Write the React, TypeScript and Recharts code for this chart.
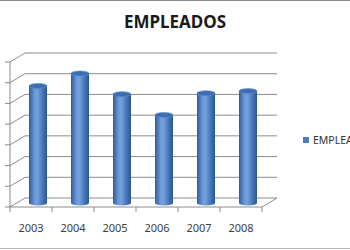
import { BarChart, Bar, XAxis, YAxis, CartesianGrid } from 'recharts';

const years = ['2003', '2004', '2005', '2006', '2007', '2008'];
const empleados = [57, 63, 53, 43, 53.5, 54.5];
const yTicks = [0, 10, 20, 30, 40, 50, 60, 70];
const seriesName = 'EMPLEADOS';

const data = years.map((year, i) => ({ year, empleados: empleados[i] }));

const W = 350;
const H = 250;
const MARGIN = { top: 62, right: 88, bottom: 0, left: 0 };
const Y_AXIS_W = 10;
const X_AXIS_H = 43;
const PLOT_BOTTOM = H - MARGIN.bottom - X_AXIS_H;
const BAND = (W - MARGIN.left - Y_AXIS_W - MARGIN.right) / years.length;
// depth of the fake 3d box
const DX = 15;
const DY = 9;
const GRID = '#8c8c8c';
const FONT = '"Noto Sans", "Open Sans", sans-serif';

// back wall line + left side wall diagonal for every gridline
const gridLine = (p: any) => {
  const { x1, y1, x2, y2 } = p;
  const floor = Math.abs(y1 - PLOT_BOTTOM) < 1;
  return (
    <g key={`grid-${y1}`}>
      <line x1={x1 + DX} y1={y1 - DY} x2={x2 + DX} y2={y2 - DY} stroke={GRID} strokeWidth={1} />
      <line x1={x1} y1={y1} x2={x1 + DX} y2={y1 - DY} stroke={GRID} strokeWidth={1} />
      {floor && <line x1={x2} y1={y2} x2={x2 + DX} y2={y2 - DY} stroke={GRID} strokeWidth={1} />}
    </g>
  );
};

const YearTick = (p: any) => {
  const { x, payload, index } = p;
  const half = BAND / 2;
  return (
    <g>
      <line x1={x - half} y1={PLOT_BOTTOM} x2={x - half} y2={PLOT_BOTTOM + 5} stroke={GRID} />
      {index === years.length - 1 && (
        <line x1={x + half} y1={PLOT_BOTTOM} x2={x + half} y2={PLOT_BOTTOM + 5} stroke={GRID} />
      )}
      <text x={x} y={PLOT_BOTTOM + 25} textAnchor="middle" fontSize={11} fontFamily={FONT} fill="#404040">
        {payload.value}
      </text>
    </g>
  );
};

// value labels sit outside the cropped picture, so they are not drawn
const NoLabel = () => <g />;

const Cylinder = (p: any) => {
  const { x, y, width, index } = p;
  const rx = width / 2;
  const ry = 2.5;
  const cx = x + rx + 7;
  const top = y - 3;
  const bot = PLOT_BOTTOM - 4;
  const id = `cyl-${index}`;
  return (
    <g>
      <defs>
        <linearGradient id={id} x1="0" y1="0" x2="1" y2="0">
          <stop offset="0%" stopColor="#2e5c9a" />
          <stop offset="30%" stopColor="#6a98d6" />
          <stop offset="45%" stopColor="#76a3dd" />
          <stop offset="75%" stopColor="#4677ba" />
          <stop offset="100%" stopColor="#2b5791" />
        </linearGradient>
      </defs>
      <rect x={cx - rx} y={top} width={rx * 2} height={bot - top} fill={`url(#${id})`} />
      <ellipse cx={cx} cy={bot} rx={rx} ry={ry} fill={`url(#${id})`} />
      <ellipse cx={cx} cy={top} rx={rx} ry={ry} fill="#3c6eb0" stroke="#5a8acb" strokeWidth={0.6} />
    </g>
  );
};

export default function App() {
  return (
    <div
      style={{
        position: 'absolute', top: 0, left: 0, width: W, height: H, overflow: 'hidden',
        background: '#fff', fontFamily: FONT,
      }}
    >
      <div style={{ position: 'absolute', top: 0, left: 0, width: W, borderTop: '1px solid #8a8a8a' }} />
      <div style={{ position: 'absolute', top: 248, left: 0, width: W, borderTop: '1px solid #b8b8b8' }} />
      <div
        style={{
          position: 'absolute', top: 10, left: 0, width: W, textAlign: 'center',
          fontSize: 17, fontWeight: 700, color: '#1a1a1a',
        }}
      >
        EMPLEADOS
      </div>

      <BarChart width={W} height={H} data={data} margin={MARGIN} barSize={18}>
        <CartesianGrid horizontal={gridLine} vertical={false} />
        <XAxis
          dataKey="year"
          height={X_AXIS_H}
          axisLine={{ stroke: GRID }}
          tickLine={false}
          tick={YearTick}
          interval={0}
        />
        <YAxis
          width={Y_AXIS_W}
          domain={[0, 70]}
          ticks={yTicks}
          interval={0}
          tick={NoLabel}
          tickSize={5}
          axisLine={{ stroke: GRID }}
          tickLine={{ stroke: GRID }}
        />
        <Bar dataKey="empleados" name={seriesName} shape={Cylinder} isAnimationActive={false} />
      </BarChart>

      <div style={{ position: 'absolute', left: 303, top: 133, display: 'flex', alignItems: 'center', whiteSpace: 'nowrap' }}>
        <span style={{ display: 'inline-block', width: 6, height: 6, background: '#4a7cc0', marginRight: 4 }} />
        <span style={{ fontSize: 10.5, color: '#333' }}>{seriesName}</span>
      </div>
    </div>
  );
}
